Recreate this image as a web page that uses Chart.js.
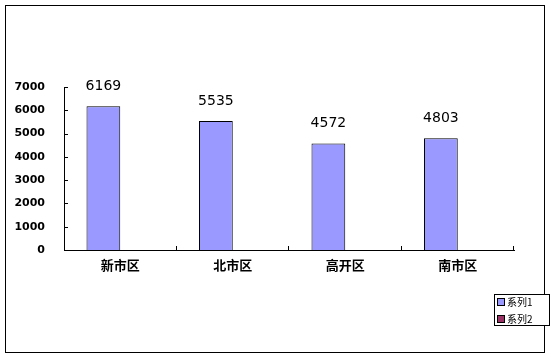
<!DOCTYPE html>
<html>
<head>
<meta charset="utf-8">
<script src="https://cdn.jsdelivr.net/npm/chart.js@4"></script>
<style>
html,body{margin:0;padding:0;background:#fff;}
#wrap{width:554px;height:360px;position:relative;}
</style>
</head>
<body>
<div id="wrap"><canvas id="c" width="554" height="360"></canvas></div>
<script>
const categories = ['新市区', '北市区', '高开区', '南市区'];
const series1 = [6169, 5535, 4572, 4803];
const series2 = [null, null, null, null];
const seriesNames = ['系列1', '系列2'];
const seriesColors = ['#9999FF', '#993366'];
const yTicks = [0, 1000, 2000, 3000, 4000, 5000, 6000, 7000];

const framePlugin = {
  id: 'frame',
  beforeDraw(chart) {
    const ctx = chart.ctx;
    ctx.save();
    ctx.fillStyle = '#fff';
    ctx.fillRect(0, 0, chart.width, chart.height);
    ctx.strokeStyle = '#000';
    ctx.lineWidth = 1;
    ctx.strokeRect(5.5, 5.5, 539, 347);
    ctx.restore();
  },
  afterDraw(chart) {
    const ctx = chart.ctx;
    const ys = chart.scales.y;
    const area = chart.chartArea;
    ctx.save();
    ctx.strokeStyle = '#000';
    ctx.lineWidth = 1;
    ctx.beginPath();
    yTicks.forEach(v => {
      const y = Math.round(ys.getPixelForValue(v)) + 0.5;
      ctx.moveTo(area.left, y);
      ctx.lineTo(area.left + 4, y);
    });
    const n = categories.length;
    const catW = (area.right - area.left) / n;
    for (let i = 1; i <= n; i++) {
      const x = Math.round(area.left + i * catW) - 0.5;
      ctx.moveTo(x, area.bottom);
      ctx.lineTo(x, area.bottom - 4);
    }
    ctx.stroke();

    // data labels
    const meta = chart.getDatasetMeta(0);
    ctx.fillStyle = '#000';
    ctx.font = '14px "DejaVu Sans"';
    ctx.textAlign = 'center';
    ctx.textBaseline = 'middle';
    meta.data.forEach((bar, i) => {
      const v = chart.data.datasets[0].data[i];
      if (v == null) return;
      ctx.fillText(String(v), bar.x, bar.y - 20);
    });

    // legend
    const lx = 494, ly = 294, lw = 56, lh = 32;
    ctx.fillStyle = '#fff';
    ctx.fillRect(lx, ly, lw, lh);
    ctx.strokeRect(lx + 0.5, ly + 0.5, lw - 1, lh - 1);
    ctx.font = '10px "Noto Sans CJK SC"';
    ctx.textAlign = 'left';
    chart.data.datasets.forEach((ds, i) => {
      const cy = ly + 8 + i * 17;
      ctx.fillStyle = ds.backgroundColor;
      ctx.fillRect(497, cy - 4, 7, 7);
      ctx.strokeStyle = '#000';
      ctx.strokeRect(497.5, cy - 3.5, 7, 7);
      ctx.fillStyle = '#000';
      ctx.fillText(ds.label, 507, cy);
    });
    ctx.restore();
  }
};

new Chart(document.getElementById('c'), {
  type: 'bar',
  data: {
    labels: categories,
    datasets: [
      { label: seriesNames[0], data: series1, backgroundColor: seriesColors[0], borderColor: '#000', borderWidth: 1 },
      { label: seriesNames[1], data: series2, backgroundColor: seriesColors[1], borderColor: '#000', borderWidth: 1 }
    ]
  },
  options: {
    responsive: false,
    animation: false,
    layout: { padding: { left: 5, right: 40, top: 87, bottom: 0 } },
    plugins: { legend: { display: false }, tooltip: { enabled: false } },
    datasets: { bar: { categoryPercentage: 0.6, barPercentage: 1.0 } },
    scales: {
      x: {
        grid: { display: false, drawTicks: false },
        border: { display: true, color: '#000', width: 1 },
        ticks: { color: '#000', padding: 7, font: { family: '"Noto Sans CJK SC"', size: 13, weight: 'bold' } },
        afterFit(s) { s.height = 110; }
      },
      y: {
        min: 0, max: 7000,
        grid: { display: false, drawTicks: false },
        border: { display: true, color: '#000', width: 1 },
        afterBuildTicks(s) { s.ticks = yTicks.map(v => ({ value: v })); },
        ticks: {
          color: '#000', padding: 19,
          font: { family: '"DejaVu Sans"', size: 11, weight: 'bold' },
          callback: (v) => String(v)
        },
        afterFit(s) { s.width = 59; }
      }
    }
  },
  plugins: [framePlugin]
});
</script>
</body>
</html>
